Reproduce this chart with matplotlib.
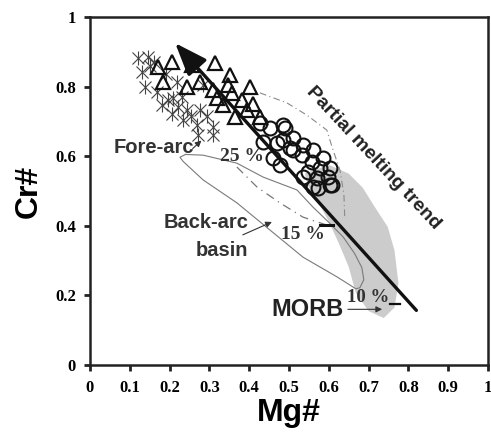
import numpy as np
import matplotlib
matplotlib.use("Agg")
from matplotlib import pyplot as plt

# --- data (Mg#, Cr#) ---
tri_mg = [0.171, 0.206, 0.183, 0.244, 0.276, 0.314, 0.352, 0.402, 0.319, 0.347,
          0.357, 0.334, 0.382, 0.410, 0.364, 0.394, 0.427, 0.309, 0.256]
tri_cr = [0.856, 0.871, 0.813, 0.799, 0.813, 0.868, 0.833, 0.799, 0.767, 0.805,
          0.782, 0.747, 0.761, 0.750, 0.713, 0.733, 0.713, 0.790, 0.862]

crs_mg = [0.121, 0.146, 0.131, 0.168, 0.196, 0.181, 0.209, 0.221, 0.244, 0.234,
          0.268, 0.276, 0.309, 0.309, 0.271, 0.256, 0.284, 0.219, 0.138, 0.160,
          0.190, 0.230, 0.255, 0.295, 0.150, 0.205]
crs_cr = [0.882, 0.885, 0.842, 0.784, 0.761, 0.747, 0.767, 0.741, 0.733, 0.704,
          0.690, 0.733, 0.684, 0.661, 0.661, 0.868, 0.805, 0.813, 0.799, 0.870,
          0.835, 0.770, 0.715, 0.715, 0.860, 0.720]

cir_mg = [0.490, 0.510, 0.535, 0.560, 0.585, 0.603, 0.533, 0.558, 0.578, 0.598,
          0.570, 0.548, 0.510, 0.485, 0.603, 0.560, 0.435, 0.470, 0.503, 0.477,
          0.460, 0.427, 0.452, 0.485, 0.608, 0.573, 0.535]
cir_cr = [0.681, 0.652, 0.632, 0.618, 0.595, 0.566, 0.603, 0.583, 0.566, 0.540,
          0.537, 0.555, 0.618, 0.647, 0.517, 0.511, 0.641, 0.638, 0.624, 0.575,
          0.595, 0.695, 0.681, 0.690, 0.517, 0.509, 0.540]

# MORB field (grey)
morb_mg = [0.54, 0.60, 0.65, 0.685, 0.715, 0.748, 0.765, 0.775, 0.765, 0.738,
           0.70, 0.668, 0.650, 0.625, 0.598, 0.572, 0.548]
morb_cr = [0.55, 0.575, 0.55, 0.51, 0.455, 0.397, 0.33, 0.235, 0.165, 0.135,
           0.155, 0.207, 0.282, 0.35, 0.417, 0.47, 0.515]

# fore-arc / back-arc outline
loop_mg = [0.24, 0.284, 0.369, 0.435, 0.520, 0.560, 0.600, 0.636, 0.665, 0.683,
           0.688, 0.678, 0.668, 0.621, 0.535, 0.452, 0.369, 0.284, 0.234, 0.226, 0.24]
loop_cr = [0.605, 0.603, 0.580, 0.540, 0.503, 0.454, 0.410, 0.368, 0.320, 0.280,
           0.245, 0.222, 0.219, 0.253, 0.310, 0.388, 0.466, 0.532, 0.585, 0.597, 0.605]

# melting curves
dd_mg = [0.427, 0.495, 0.545, 0.595, 0.610, 0.628, 0.638, 0.640]
dd_cr = [0.782, 0.753, 0.718, 0.675, 0.620, 0.560, 0.490, 0.425]
ds_mg = [0.369, 0.420, 0.477, 0.535, 0.595]
ds_cr = [0.569, 0.511, 0.466, 0.425, 0.402]

# trend arrow
trend_start = (0.82, 0.157)
trend_end = (0.214, 0.925)

xticks = [0, 0.1, 0.2, 0.3, 0.4, 0.5, 0.6, 0.7, 0.8, 0.9, 1]
xlabels = ['0', '0.1', '0.2', '0.3', '0.4', '0.5', '0.6', '0.7', '0.8', '0.9', '1']
yticks = [0, 0.2, 0.4, 0.6, 0.8, 1]
ylabels = ['0', '0.2', '0.4', '0.6', '0.8', '1']

sans = 'Liberation Sans'
serif = 'Liberation Serif'
dark = '#222222'

fig = plt.figure(figsize=(4.91, 4.37), dpi=100)
ax = fig.add_axes([90/491, 1-365/437, 398/491, 348/437])

ax.fill(morb_mg, morb_cr, color='#cccccc', lw=0, zorder=1)
ax.plot(loop_mg, loop_cr, color='#7a7a7a', lw=0.8, zorder=2)
ax.plot(dd_mg, dd_cr, color='#8a8a8a', lw=0.8, ls=(0, (6, 3, 1, 3)), zorder=2)
ax.plot(ds_mg, ds_cr, color='#777777', lw=0.9, ls=(0, (7, 4, 1, 4)), zorder=2)
# short tick marks at 15 % and 10 %
ax.plot([0.578, 0.61], [0.402, 0.402], color='#111111', lw=2.2, zorder=3)
ax.plot([0.755, 0.78], [0.176, 0.176], color='#111111', lw=1.6, zorder=3)

ax.plot(crs_mg, crs_cr, 'x', ms=9, mec='#444444', mew=0.8, zorder=3)
ax.plot(crs_mg, crs_cr, '|', ms=10, mec='#444444', mew=0.8, zorder=3)
ax.plot(tri_mg, tri_cr, '^', ms=9.5, mfc='none', mec='#111111', mew=1.6, zorder=4)
ax.plot(cir_mg, cir_cr, 'o', ms=10, mfc='none', mec='#111111', mew=1.5, zorder=4)

ax.annotate('', xy=trend_end, xytext=trend_start,
            arrowprops=dict(arrowstyle='-|>,head_length=1.0,head_width=0.38',
                            mutation_scale=20, lw=2.4, color='#111111',
                            shrinkA=0, shrinkB=0), zorder=5)

# labels
ax.text(0.16, 0.626, 'Fore-arc', fontfamily=sans, fontweight='bold', fontsize=14.5,
        color='#333333', ha='center', va='center', zorder=6)
ax.annotate('', xy=(0.28, 0.645), xytext=(0.258, 0.622),
            arrowprops=dict(arrowstyle='-|>', color='#333333', lw=0.8,
                            mutation_scale=9, shrinkA=0, shrinkB=0))
ax.text(0.382, 0.598, '25 %', fontfamily=serif, fontweight='bold', fontsize=14,
        color='#333333', ha='center', va='center', zorder=6)
ax.text(0.397, 0.41, 'Back-arc', fontfamily=sans, fontweight='bold', fontsize=14.5,
        color='#333333', ha='right', va='center', zorder=6)
ax.text(0.397, 0.33, 'basin', fontfamily=sans, fontweight='bold', fontsize=14.5,
        color='#333333', ha='right', va='center', zorder=6)
ax.annotate('', xy=(0.457, 0.411), xytext=(0.384, 0.374),
            arrowprops=dict(arrowstyle='-|>', color='#333333', lw=0.8,
                            mutation_scale=9, shrinkA=0, shrinkB=0))
ax.text(0.535, 0.374, '15 %', fontfamily=serif, fontweight='bold', fontsize=14,
        color='#333333', ha='center', va='center', zorder=6)
ax.text(0.70, 0.195, '10 %', fontfamily=serif, fontweight='bold', fontsize=13.5,
        color='#333333', ha='center', va='center', zorder=6)
ax.text(0.636, 0.16, 'MORB', fontfamily=sans, fontweight='bold', fontsize=17,
        color='#222222', ha='right', va='center', zorder=6)
ax.annotate('', xy=(0.734, 0.16), xytext=(0.648, 0.16),
            arrowprops=dict(arrowstyle='-|>', color='#333333', lw=0.8,
                            mutation_scale=9, shrinkA=0, shrinkB=0))
ax.text(0.711, 0.595, 'Partial melting trend', fontfamily=sans, fontweight='bold',
        fontsize=14, color='#222222', rotation=-47, rotation_mode='anchor',
        ha='center', va='center', zorder=6)

ax.set_xlim(0, 1)
ax.set_ylim(0, 1)
ax.set_xticks(xticks)
ax.set_xticklabels(xlabels, fontfamily=serif, fontweight='bold', fontsize=12)
ax.set_yticks(yticks)
ax.set_yticklabels(ylabels, fontfamily=serif, fontweight='bold', fontsize=12)
ax.tick_params(direction='out', length=4, width=2, color=dark, pad=4)
ax.tick_params(axis='y', pad=6)
ax.tick_params(axis='x', pad=7)
for s in ax.spines.values():
    s.set_linewidth(1.8)
    s.set_color(dark)

ax.set_xlabel('Mg#', fontfamily=sans, fontweight='bold', fontsize=23, labelpad=1)
ax.set_ylabel('Cr#', fontfamily=sans, fontweight='bold', fontsize=23, labelpad=8)

fig.savefig('out.png', dpi=100)
